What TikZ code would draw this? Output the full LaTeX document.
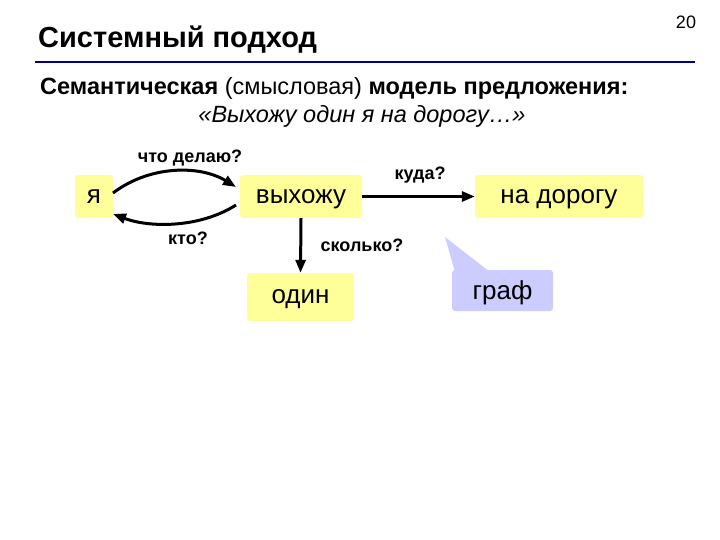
\documentclass[tikz,border=0pt]{standalone}
\usepackage{fontspec}
\setmainfont{Liberation Sans}
\usetikzlibrary{arrows.meta}
\definecolor{ybox}{HTML}{FFFF99}
\definecolor{gbox}{HTML}{CCCCFF}
\definecolor{tline}{HTML}{000080}
\tikzset{
 yb/.style={fill=ybox,rounded corners=3pt,inner sep=0pt,text depth=0pt,font=\fontsize{26}{26}\selectfont},
 lab/.style={font=\bfseries\fontsize{18}{18}\selectfont,inner sep=0pt},
 arr/.style={-{Triangle[length=13pt,width=10pt]},line width=3pt}
}
\begin{document}
\begin{tikzpicture}[x=1pt,y=-1pt]
\useasboundingbox (0,0) rectangle (720,540);
\node[anchor=west,font=\bfseries\fontsize{29}{29}\selectfont,inner sep=0pt] (title) at (38,40) {Системный подход};
\node[font=\fontsize{18}{18}\selectfont,inner sep=0pt] (pg) at (686,22) {20};
\draw[tline,line width=2pt] (35,62) -- (695,62);
\node[anchor=west,font=\fontsize{23.5}{23.5}\selectfont,inner sep=0pt] (l1) at (40,88) {\textbf{Семантическая} (смысловая) \textbf{модель предложения:}};
\node[font=\itshape\fontsize{23.5}{23.5}\selectfont,inner sep=0pt] (l2) at (362,116) {«Выхожу один я на дорогу…»};
\node[yb,minimum width=38pt,minimum height=43pt] (ya) at (94,196.5) {я};
\node[yb,minimum width=122pt,minimum height=43pt] (vy) at (301,196.5) {выхожу};
\node[yb,minimum width=168pt,minimum height=43pt] (nd) at (559,196.5) {на дорогу};
\node[yb,minimum width=107pt,minimum height=48pt] (od) at (300.5,297) {один};
\fill[gbox] (455,272) -- (445,237) -- (490,272) -- cycle;
\node[fill=gbox,rounded corners=3pt,inner sep=0pt,text depth=0pt,minimum width=101pt,minimum height=41pt,font=\fontsize{26}{26}\selectfont] (gr) at (502.5,290.5) {граф};
\coordinate (a1) at (113,193); \coordinate (b1) at (236,187);
\coordinate (a2) at (113,214); \coordinate (b2) at (236,205);
\draw[arr] (a1) .. controls (150,165) and (200,165) .. (b1);
\draw[arr] (b2) .. controls (200,228) and (150,228) .. (a2);
\draw[arr] (vy.east) -- (nd.west);
\draw[arr] (vy.south) -- (od.north);
\node[lab] (q1) at (190,158) {что делаю?};
\node[lab] (q2) at (188,238) {кто?};
\node[lab] (q3) at (420,175) {куда?};
\node[lab] (q4) at (362,245) {сколько?};
\end{tikzpicture}
\end{document}
